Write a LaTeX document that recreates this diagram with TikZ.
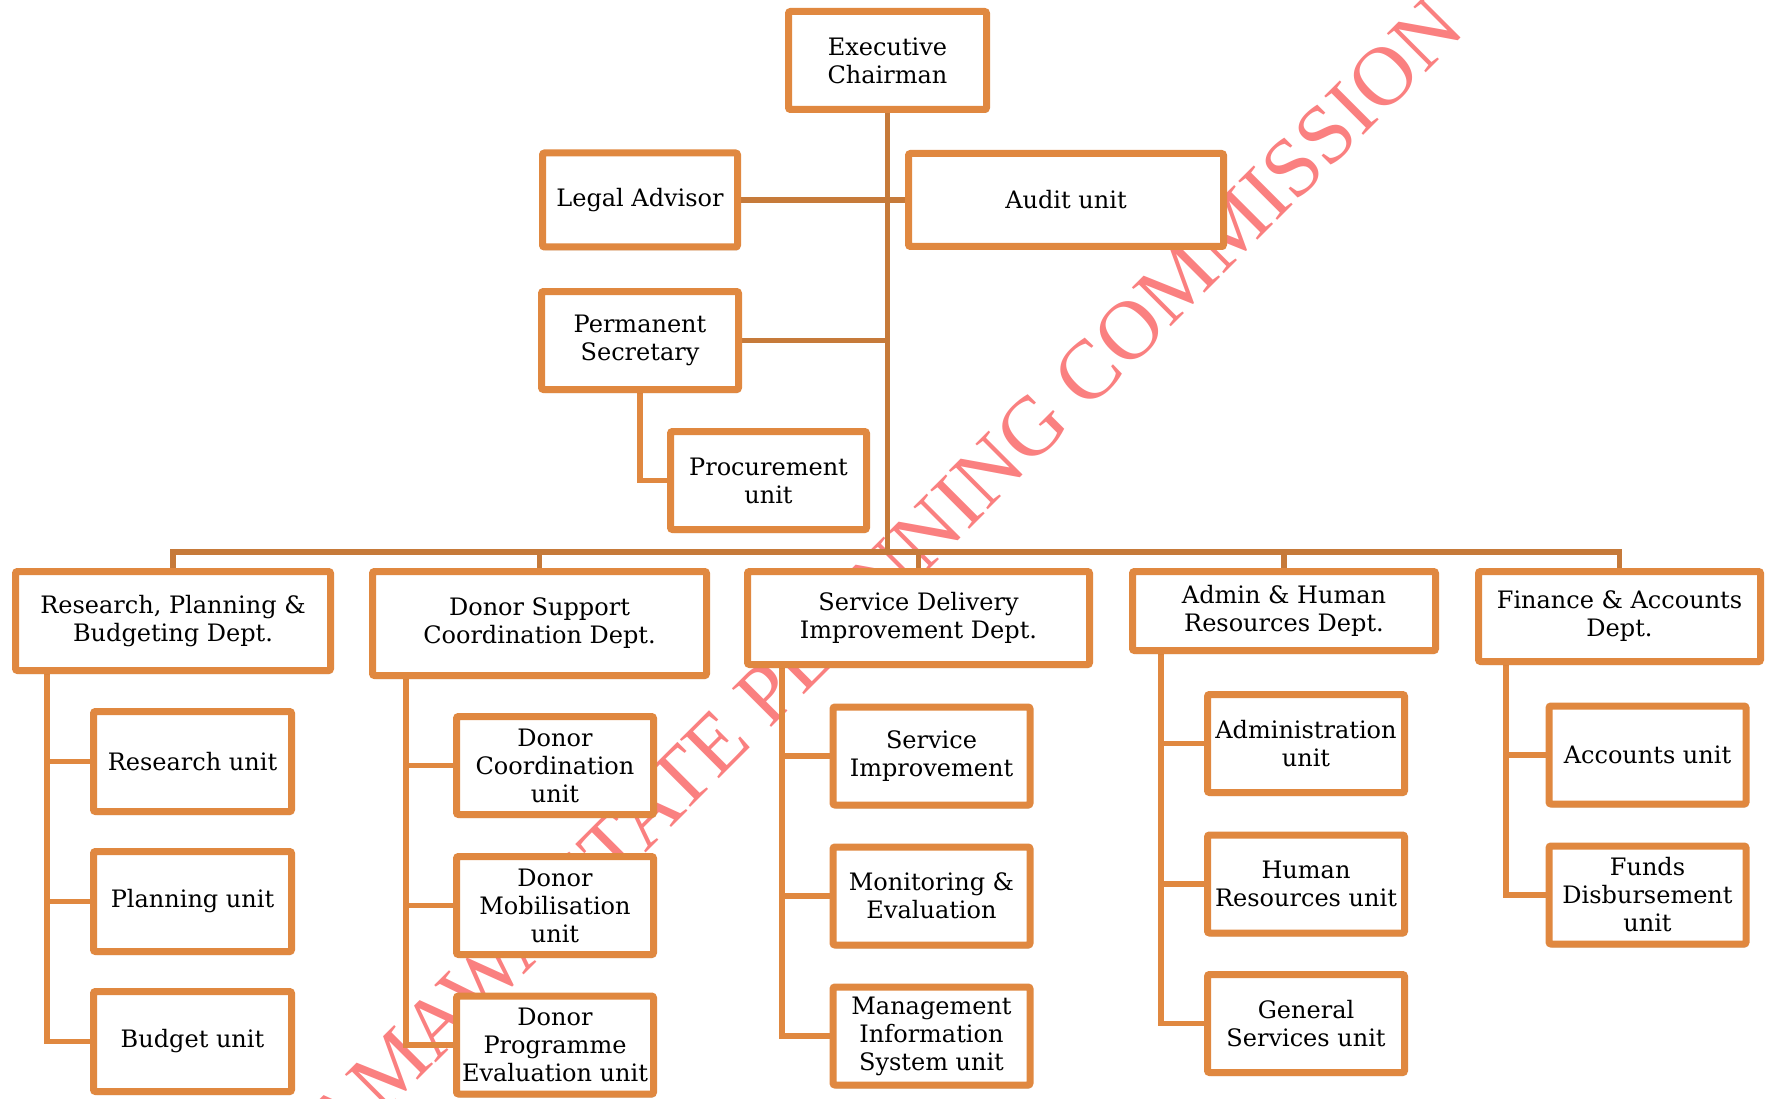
\documentclass[tikz,border=0pt]{standalone}
\usepackage{fontspec}
\setmainfont{DejaVu Serif}
\newfontfamily\wmfont{Liberation Serif}
\usetikzlibrary{shadows}
\definecolor{boxor}{RGB}{224,136,64}
\definecolor{lineor}{RGB}{198,122,58}
\definecolor{wmred}{RGB}{250,128,128}
\pgfdeclarelayer{wm}
\pgfdeclarelayer{bg}
\pgfsetlayers{wm,bg,main}
\tikzset{
  box/.style={draw=boxor, line width=7pt, fill=white, rounded corners=2pt,
    inner sep=0pt, align=center, font=\fontsize{24}{28}\selectfont,
    drop shadow={shadow xshift=1.5pt, shadow yshift=-3.5pt, opacity=0.16, fill=black}},
  kid/.style={box, minimum width=197pt, minimum height=98pt},
  trunk/.style={draw=lineor, line width=5.5pt},
  subline/.style={draw=boxor, line width=5.5pt},
}
\begin{document}
\begin{tikzpicture}[x=1pt,y=-1pt]
\useasboundingbox (0,0) rectangle (1768,1099);

% top level
\node[box, minimum width=198pt, minimum height=98pt] (exec) at (887.5,60.5) {Executive\\Chairman};
\node[box, minimum width=195pt, minimum height=94pt] (legal) at (640,200) {Legal Advisor};
\node[box, minimum width=315pt, minimum height=93pt] (audit) at (1066,200) {Audit unit};
\node[box, minimum width=197pt, minimum height=98pt] (perm) at (640,340.5) {Permanent\\Secretary};
\node[box, minimum width=196pt, minimum height=98pt] (proc) at (768.5,480.5) {Procurement\\unit};

% departments
\node[box, minimum width=315pt, minimum height=99pt] (R) at (173,621) {Research, Planning \&\\Budgeting Dept.};
\node[box, minimum width=334pt, minimum height=104pt] (D) at (539.5,623.5) {Donor Support\\Coordination Dept.};
\node[box, minimum width=342pt, minimum height=93pt] (S) at (918.5,618) {Service Delivery\\Improvement Dept.};
\node[box, minimum width=303pt, minimum height=79pt] (A) at (1284,611) {Admin \& Human\\Resources Dept.};
\node[box, minimum width=282pt, minimum height=90pt] (F) at (1619.5,616.5) {Finance \& Accounts\\Dept.};

% units
\node[kid, minimum width=198pt, minimum height=100pt] (r1) at (192.5,761.5) {Research unit};
\node[kid, minimum width=198pt, minimum height=100pt] (r2) at (192.5,901.5) {Planning unit};
\node[kid, minimum width=198pt, minimum height=100pt] (r3) at (192.5,1041.5) {Budget unit};

\node[kid] (d1) at (555,765.5) {Donor\\Coordination\\unit};
\node[kid] (d2) at (555,905.5) {Donor\\Mobilisation\\unit};
\node[kid] (d3) at (555,1045) {Donor\\Programme\\Evaluation unit};

\node[kid] (s1) at (931.5,756) {Service\\Improvement};
\node[kid] (s2) at (931.5,896) {Monitoring \&\\Evaluation};
\node[kid] (s3) at (931.5,1036) {Management\\Information\\System unit};

\node[kid] (a1) at (1306,743.5) {Administration\\unit};
\node[kid] (a2) at (1306,884) {Human\\Resources unit};
\node[kid] (a3) at (1306,1023.5) {General\\Services unit};

\node[kid] (f1) at (1647.5,755) {Accounts unit};
\node[kid] (f2) at (1647.5,895) {Funds\\Disbursement\\unit};

\coordinate (bus) at (0,552);
\coordinate (rx) at (47,0);
\coordinate (dx) at (406,0);
\coordinate (sx) at (782,0);
\coordinate (ax) at (1161,0);
\coordinate (fx) at (1506,0);

\begin{pgfonlayer}{bg}
  \draw[trunk] (exec.south) -- (exec.south |- bus);
  \draw[trunk] (legal.east) -- (audit.west);
  \draw[trunk] (perm.east) -- (perm.east -| exec.south);
  \draw[subline] (perm.south) |- (proc.west);
  \draw[trunk] (R.north) -- (R.north |- bus) -- (F.north |- bus) -- (F.north);
  \draw[trunk] (D.north |- bus) -- (D.north);
  \draw[trunk] (S.north |- bus) -- (S.north);
  \draw[trunk] (A.north |- bus) -- (A.north);

  \draw[subline] (R.south -| rx) |- (r3.west);
  \draw[subline] (r1.west -| rx) -- (r1.west);
  \draw[subline] (r2.west -| rx) -- (r2.west);

  \draw[subline] (D.south -| dx) |- (d3.west);
  \draw[subline] (d1.west -| dx) -- (d1.west);
  \draw[subline] (d2.west -| dx) -- (d2.west);

  \draw[subline] (S.south -| sx) |- (s3.west);
  \draw[subline] (s1.west -| sx) -- (s1.west);
  \draw[subline] (s2.west -| sx) -- (s2.west);

  \draw[subline] (A.south -| ax) |- (a3.west);
  \draw[subline] (a1.west -| ax) -- (a1.west);
  \draw[subline] (a2.west -| ax) -- (a2.west);

  \draw[subline] (F.south -| fx) |- (f2.west);
  \draw[subline] (f1.west -| fx) -- (f1.west);
\end{pgfonlayer}

\begin{pgfonlayer}{wm}
  \node[text=wmred, font=\wmfont\fontsize{84}{84}\selectfont, rotate=45, anchor=east, inner sep=0pt]
    (wm) at (1448,12) {ADAMAWA STATE PLANNING COMMISSION};
\end{pgfonlayer}
\end{tikzpicture}
\end{document}
